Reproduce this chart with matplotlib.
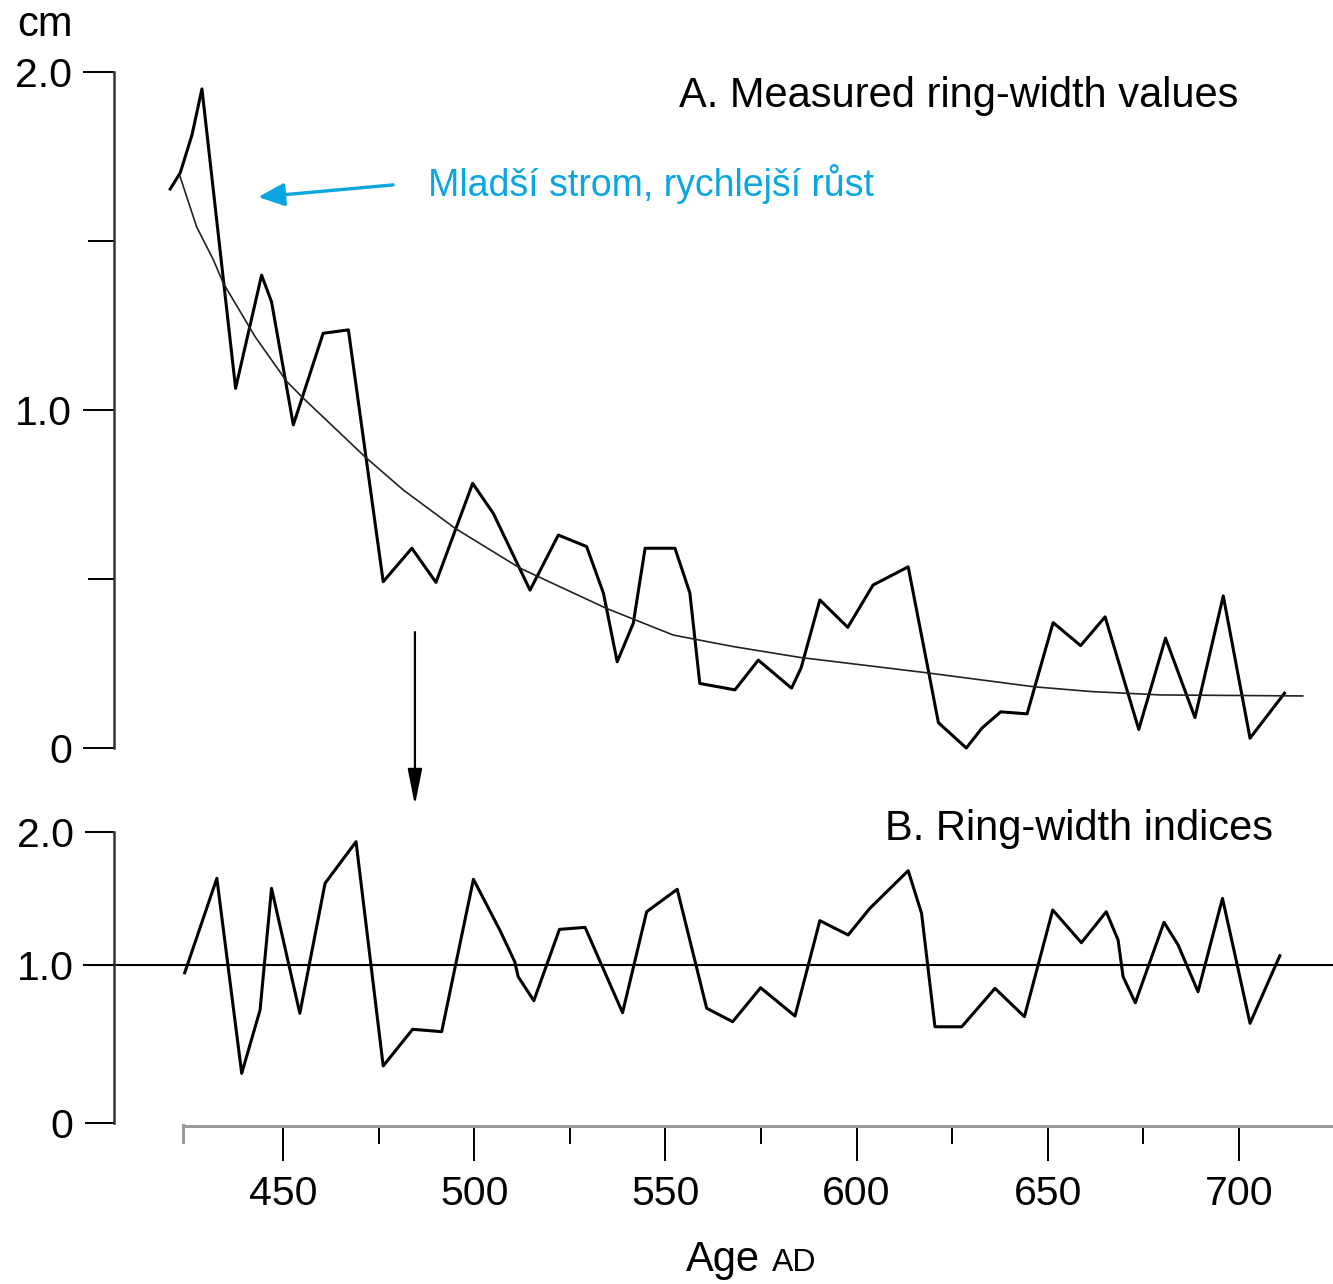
import numpy as np
import matplotlib.pyplot as plt
from matplotlib.ticker import NullLocator

plt.rcParams['font.family'] = ['Liberation Sans', 'DejaVu Sans']

# A. measured ring widths (cm)
years_a = [420.5, 423.1, 426.2, 428.8, 437.6, 444.4, 447.0, 452.7, 460.5, 467.1,
           476.2, 483.7, 490.0, 499.6, 505.0, 514.6, 522.0, 529.4, 533.8, 537.4,
           541.6, 544.7, 552.5, 556.4, 559.0, 568.2, 574.3, 583.0, 585.5, 590.4,
           597.7, 604.3, 613.5, 618.9, 621.4, 628.7, 632.8, 637.7, 644.6, 651.4,
           658.6, 665.0, 673.8, 680.8, 688.5, 695.9, 702.9, 711.9]
width_a = [1.654, 1.701, 1.814, 1.950, 1.064, 1.399, 1.320, 0.956, 1.227, 1.237,
           0.492, 0.591, 0.490, 0.783, 0.694, 0.467, 0.630, 0.596, 0.458, 0.255,
           0.369, 0.591, 0.591, 0.459, 0.191, 0.172, 0.260, 0.177, 0.237, 0.438,
           0.357, 0.482, 0.536, 0.222, 0.075, 0.0, 0.059, 0.107, 0.101, 0.371,
           0.303, 0.388, 0.055, 0.325, 0.090, 0.450, 0.029, 0.162]

# fitted growth curve
curve_years = [423.1, 427.4, 431.8, 434.4, 442.7, 451.0, 455.3, 471.4, 481.5, 495.0,
               512.0, 534.6, 552.1, 567.8, 585.2, 618.0, 646.5, 661.4, 679.5, 716.7]
curve_vals = [1.690, 1.542, 1.444, 1.375, 1.217, 1.084, 1.035, 0.862, 0.763, 0.650,
              0.532, 0.413, 0.334, 0.300, 0.268, 0.223, 0.181, 0.167, 0.157, 0.154]

# B. ring-width indices
years_b = [424.3, 432.7, 439.2, 444.0, 447.0, 454.4, 461.0, 469.1, 476.2, 483.9,
           491.5, 499.8, 506.7, 510.6, 511.5, 515.6, 522.3, 529.0, 538.8, 545.1,
           553.1, 560.8, 567.6, 574.9, 583.9, 590.4, 597.8, 603.5, 613.5, 617.0,
           620.5, 627.5, 636.2, 643.9, 651.3, 658.8, 665.3, 668.4, 669.7, 672.9,
           680.4, 684.1, 689.3, 695.7, 698.5, 702.9, 710.7]
index_b = [0.953, 1.651, 0.316, 0.717, 1.576, 0.696, 1.614, 1.925, 0.363, 0.595,
           0.580, 1.644, 1.264, 1.027, 0.928, 0.776, 1.269, 1.284, 0.700, 1.401,
           1.569, 0.728, 0.643, 0.858, 0.679, 1.334, 1.227, 1.427, 1.708, 1.389,
           0.611, 0.611, 0.854, 0.675, 1.414, 1.169, 1.401, 1.189, 0.928, 0.763,
           1.322, 1.152, 0.833, 1.501, 1.139, 0.633, 1.072]

major_years = [450, 500, 550, 600, 650, 700]
minor_years = [475, 525, 575, 625, 675]

blue = '#0AA6E2'
W, H = 1333, 1284


def frac(x0, y0, x1, y1):
    return [x0 / W, 1 - y1 / H, (x1 - x0) / W, (y1 - y0) / H]


# the original index axis is not quite linear (0-1 taller than 1-2)
def fwd(v):
    v = np.asarray(v, float)
    return np.where(v < 1, v * 158.0, 158.0 + (v - 1) * 133.6)


def inv(p):
    p = np.asarray(p, float)
    return np.where(p < 158, p / 158.0, 1 + (p - 158.0) / 133.6)


fig = plt.figure(figsize=(13.33, 12.84), dpi=100)
xlim = (405.8, 724.6)

# top panel
ax_a = fig.add_axes(frac(114, 72, 1333, 748))
ax_a.plot(years_a, width_a, color='k', lw=2.2, clip_on=False)
ax_a.plot(curve_years, curve_vals, color='#222222', lw=1.2, clip_on=False)
ax_a.set_xlim(*xlim)
ax_a.set_ylim(0, 2)
for s in ['top', 'right', 'bottom']:
    ax_a.spines[s].set_visible(False)
ax_a.spines['left'].set_color('#333333')
ax_a.spines['left'].set_linewidth(1.8)
ax_a.set_xticks([])
ax_a.set_yticks([0, 1, 2], ['0', '1.0', '2.0'])
ax_a.set_yticks([0.5, 1.5], minor=True)
ax_a.tick_params(axis='y', which='major', length=22, width=1.4, pad=8, labelsize=29.5)
ax_a.tick_params(axis='y', which='minor', length=19, width=1.4)

ax_a.annotate('', xy=(443.5, 1.630), xytext=(478.8, 1.666),
              arrowprops=dict(arrowstyle='-|>,head_length=0.8,head_width=0.35',
                              color=blue, lw=2.4, mutation_scale=20,
                              shrinkA=0, shrinkB=0))
ax_a.annotate('', xy=(484.5, -0.169), xytext=(484.5, 0.343),
              arrowprops=dict(arrowstyle='-|>,head_length=1.1,head_width=0.22',
                              color='k', lw=1.6, mutation_scale=20,
                              shrinkA=0, shrinkB=0),
              annotation_clip=False)

# bottom panel
ax_b = fig.add_axes(frac(114, 831.7, 1333, 1123.3))
ax_b.set_yscale('function', functions=(fwd, inv))
ax_b.plot(years_b, index_b, color='k', lw=2.2, clip_on=False)
ax_b.axhline(1.0, xmin=-0.025, xmax=1, color='k', lw=1.5, clip_on=False)
ax_b.set_xlim(*xlim)
ax_b.set_ylim(0, 2)
ax_b.spines['top'].set_visible(False)
ax_b.spines['right'].set_visible(False)
ax_b.spines['left'].set_color('#333333')
ax_b.spines['left'].set_linewidth(1.8)
ax_b.set_yticks([0, 1, 2], ['0', '1.0', '2.0'])
ax_b.yaxis.set_minor_locator(NullLocator())
ax_b.tick_params(axis='y', which='major', length=21, width=1.4, pad=8, labelsize=29.5)

ax_b.spines['bottom'].set_bounds(423.85, xlim[1])
ax_b.spines['bottom'].set_position(('outward', 2))
ax_b.spines['bottom'].set_color('#9a9a9a')
ax_b.spines['bottom'].set_linewidth(2.2)
ax_b.set_xticks(major_years, [str(y) for y in major_years])
ax_b.set_xticks(minor_years, minor=True)
ax_b.tick_params(axis='x', which='major', length=25, width=1.4, color='k',
                 pad=10, labelsize=29.5)
ax_b.tick_params(axis='x', which='minor', length=13, width=1.4, color='k')
ax_b.plot([423.85, 423.85], [-0.007, -0.065], transform=ax_b.get_xaxis_transform(),
          color='#9a9a9a', lw=2.2, clip_on=False)

# texts
fig.text(1238 / W, 1 - 107 / H, 'A. Measured ring-width values', ha='right',
         va='baseline', fontsize=30)
fig.text(1273 / W, 1 - 840 / H, 'B. Ring-width indices', ha='right',
         va='baseline', fontsize=30)
fig.text(428 / W, 1 - 196 / H, 'Mladší strom, rychlejší růst', color=blue,
         va='baseline', fontsize=27)
fig.text(17 / W, 1 - 36 / H, 'cm', va='baseline', fontsize=30)
fig.text(686 / W, 1 - 1271 / H, 'Age', va='baseline', fontsize=30)
fig.text(772 / W, 1 - 1271 / H, 'AD', va='baseline', fontsize=23)

fig.savefig('out.png', dpi=100)
